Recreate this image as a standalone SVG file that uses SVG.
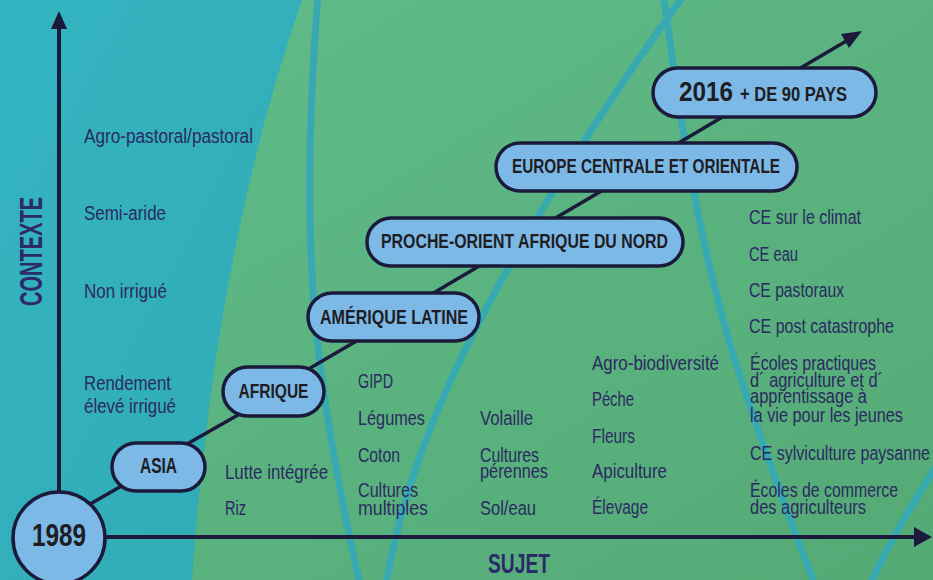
<svg xmlns="http://www.w3.org/2000/svg" width="933" height="580" viewBox="0 0 933 580">
<defs>
<linearGradient id="gGreen" x1="0" y1="0" x2="1" y2="1">
<stop offset="0" stop-color="#61bd8b"/>
<stop offset="1" stop-color="#54aa75"/>
</linearGradient>
<linearGradient id="gTeal" x1="0" y1="0" x2="1" y2="1">
<stop offset="0" stop-color="#35b4c2"/>
<stop offset="1" stop-color="#2fabb3"/>
</linearGradient>
<style>
.bgline{fill:none;stroke:#37aab1;stroke-width:7}
.axis{stroke:#1b1a3b;stroke-width:4;fill:none}
.conn{stroke:#1b1a3b;stroke-width:3.5;fill:none}
.head{fill:#1b1a3b}
.box{fill:#7db9e6;stroke:#1b1a3b;stroke-width:3.5}
.bt{font-family:"Liberation Sans Narrow","Liberation Sans",Arial,sans-serif;font-weight:bold;fill:#1e1d24;text-anchor:middle}
.t{font-family:"Liberation Sans Narrow","Liberation Sans",Arial,sans-serif;font-size:19.5px;fill:#2c2a62}
.ax{font-family:"Liberation Sans Narrow","Liberation Sans",Arial,sans-serif;font-weight:bold;fill:#2d2a6a;text-anchor:middle}
</style>
</defs>
<g id="background">
<rect x="0" y="0" width="933" height="580" fill="url(#gGreen)"/>
<path d="M0,0 L302,0 Q215,250 192,580 L0,580 Z" fill="url(#gTeal)"/>
<path class="bgline" d="M318,-5 C306,150 306,280 325,400 C335,470 350,540 360,585"/>
<path class="bgline" d="M682,-2 C600,110 520,240 470,340 C430,420 400,500 386,585"/>
<path class="bgline" d="M664,-2 C680,120 700,250 735,360 C760,440 790,520 815,585"/>
<path class="bgline" d="M870,585 C890,540 915,500 940,460"/>
</g>
<g id="axes">
<line class="axis" x1="59" y1="26" x2="59" y2="500"/>
<polygon class="head" points="59,11 51,29 67,29"/>
<line class="axis" x1="100" y1="537" x2="916" y2="537"/>
<polygon class="head" points="932,537 914,527 914,547"/>
<text class="ax" font-size="32" transform="translate(42,251.5) rotate(-90)" textLength="109" lengthAdjust="spacingAndGlyphs">CONTEXTE</text>
<text class="ax" font-size="28" x="519" y="573" textLength="62" lengthAdjust="spacingAndGlyphs">SUJET</text>
</g>
<g id="connectors">
<line class="conn" x1="85" y1="507" x2="125" y2="484"/>
<line class="conn" x1="180" y1="448" x2="245" y2="411"/>
<line class="conn" x1="300" y1="374" x2="365" y2="336"/>
<line class="conn" x1="425" y1="298" x2="486" y2="262"/>
<line class="conn" x1="547" y1="223" x2="610" y2="186"/>
<line class="conn" x1="670" y1="148" x2="731" y2="112"/>
<line class="conn" x1="792" y1="73" x2="848" y2="40"/>
<polygon class="head" points="862,31 849,48 841,34"/>
</g>
<g id="n1989">
<circle class="box" cx="59" cy="538" r="46" stroke-width="4"/>
<text class="bt" x="59" y="546" font-size="31" textLength="54" lengthAdjust="spacingAndGlyphs">1989</text>
</g>
<g id="asia">
<rect class="box" x="112" y="443" width="93" height="48" rx="24"/>
<text class="bt" x="158.5" y="473" font-size="22" textLength="37" lengthAdjust="spacingAndGlyphs">ASIA</text>
</g>
<g id="afrique">
<rect class="box" x="223" y="367" width="101" height="49" rx="24.5"/>
<text class="bt" x="273.5" y="398" font-size="21" textLength="70" lengthAdjust="spacingAndGlyphs">AFRIQUE</text>
</g>
<g id="amerique">
<rect class="box" x="308" y="293" width="171" height="48" rx="24"/>
<text class="bt" x="394" y="324" font-size="21" textLength="148" lengthAdjust="spacingAndGlyphs">AMÉRIQUE LATINE</text>
</g>
<g id="proche">
<rect class="box" x="367" y="218" width="316" height="48" rx="24"/>
<text class="bt" x="524.5" y="248" font-size="21" textLength="287" lengthAdjust="spacingAndGlyphs">PROCHE-ORIENT AFRIQUE DU NORD</text>
</g>
<g id="europe">
<rect class="box" x="496" y="143" width="301" height="48" rx="24"/>
<text class="bt" x="646" y="173" font-size="21" textLength="268" lengthAdjust="spacingAndGlyphs">EUROPE CENTRALE ET ORIENTALE</text>
</g>
<g id="n2016">
<rect class="box" x="653" y="68" width="223" height="49" rx="24.5"/>
<text class="bt" x="706" y="101" font-size="27" textLength="54" lengthAdjust="spacingAndGlyphs">2016</text>
<text class="bt" x="793.5" y="101" font-size="21" textLength="107" lengthAdjust="spacingAndGlyphs">+ DE 90 PAYS</text>
</g>
<g id="contexte-labels">
<text class="t" x="84" y="143" textLength="169" lengthAdjust="spacingAndGlyphs">Agro-pastoral/pastoral</text>
<text class="t" x="84" y="220" textLength="82" lengthAdjust="spacingAndGlyphs">Semi-aride</text>
<text class="t" x="84" y="298" textLength="83" lengthAdjust="spacingAndGlyphs">Non irrigué</text>
<text class="t" x="84" y="390" textLength="87" lengthAdjust="spacingAndGlyphs">Rendement</text>
<text class="t" x="84" y="413" textLength="92" lengthAdjust="spacingAndGlyphs">élevé irrigué</text>
</g>
<g id="sujet-col1">
<text class="t" x="225" y="479" textLength="103" lengthAdjust="spacingAndGlyphs">Lutte intégrée</text>
<text class="t" x="225" y="515" textLength="21" lengthAdjust="spacingAndGlyphs">Riz</text>
</g>
<g id="sujet-col2">
<text class="t" x="358" y="388" textLength="35" lengthAdjust="spacingAndGlyphs">GIPD</text>
<text class="t" x="358" y="425" textLength="67" lengthAdjust="spacingAndGlyphs">Légumes</text>
<text class="t" x="358" y="462" textLength="42" lengthAdjust="spacingAndGlyphs">Coton</text>
<text class="t" x="358" y="497" textLength="60" lengthAdjust="spacingAndGlyphs">Cultures</text>
<text class="t" x="358" y="515" textLength="70" lengthAdjust="spacingAndGlyphs">multiples</text>
</g>
<g id="sujet-col3">
<text class="t" x="480" y="425" textLength="53" lengthAdjust="spacingAndGlyphs">Volaille</text>
<text class="t" x="480" y="462" textLength="59" lengthAdjust="spacingAndGlyphs">Cultures</text>
<text class="t" x="480" y="478" textLength="68" lengthAdjust="spacingAndGlyphs">pérennes</text>
<text class="t" x="480" y="515" textLength="56" lengthAdjust="spacingAndGlyphs">Sol/eau</text>
</g>
<g id="sujet-col4">
<text class="t" x="592" y="370" textLength="127" lengthAdjust="spacingAndGlyphs">Agro-biodiversité</text>
<text class="t" x="592" y="406" textLength="42" lengthAdjust="spacingAndGlyphs">Péche</text>
<text class="t" x="592" y="443" textLength="43" lengthAdjust="spacingAndGlyphs">Fleurs</text>
<text class="t" x="592" y="478" textLength="75" lengthAdjust="spacingAndGlyphs">Apiculture</text>
<text class="t" x="592" y="514" textLength="56" lengthAdjust="spacingAndGlyphs">Élevage</text>
</g>
<g id="sujet-col5">
<text class="t" x="749" y="224" textLength="112" lengthAdjust="spacingAndGlyphs">CE sur le climat</text>
<text class="t" x="749" y="261" textLength="49" lengthAdjust="spacingAndGlyphs">CE eau</text>
<text class="t" x="749" y="297" textLength="95" lengthAdjust="spacingAndGlyphs">CE pastoraux</text>
<text class="t" x="749" y="333" textLength="145" lengthAdjust="spacingAndGlyphs">CE post catastrophe</text>
<text class="t" x="750" y="370" textLength="126" lengthAdjust="spacingAndGlyphs">Écoles practiques</text>
<text class="t" x="750" y="387" textLength="133" lengthAdjust="spacingAndGlyphs">d´ agriculture et d´</text>
<text class="t" x="750" y="403" textLength="117" lengthAdjust="spacingAndGlyphs">apprentissage à</text>
<text class="t" x="750" y="422" textLength="153" lengthAdjust="spacingAndGlyphs">la vie pour les jeunes</text>
<text class="t" x="750" y="460" textLength="180" lengthAdjust="spacingAndGlyphs">CE sylviculture paysanne</text>
<text class="t" x="750" y="497" textLength="148" lengthAdjust="spacingAndGlyphs">Écoles de commerce</text>
<text class="t" x="750" y="514" textLength="116" lengthAdjust="spacingAndGlyphs">des agriculteurs</text>
</g>
</svg>
